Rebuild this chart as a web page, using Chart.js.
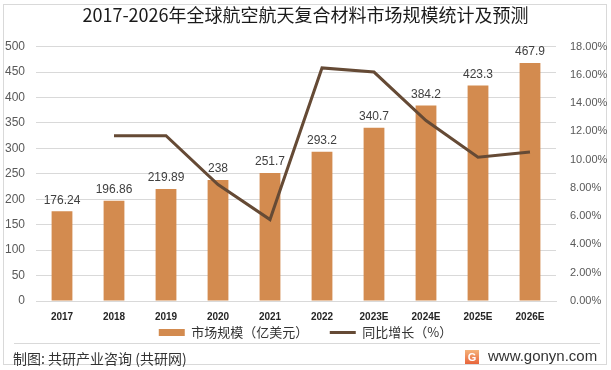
<!DOCTYPE html>
<html lang="zh-CN">
<head>
  <meta charset="UTF-8" />
  <title>2017-2026年全球航空航天复合材料市场规模统计及预测</title>
  <script src="https://cdn.jsdelivr.net/npm/chart.js"></script>
  <style>
    body { margin: 0; background: #fff; font-family: "Noto Sans CJK SC", "Liberation Sans", sans-serif; }
    #wrap { position: relative; width: 611px; height: 370px; overflow: hidden; }
    #frame { position: absolute; left: 3px; top: 4px; width: 604px; height: 361px; border: 1px solid #d9d9d9; box-sizing: border-box; }
    #chartBox { position: absolute; left: 0; top: 0; }
    .sep { position: absolute; left: 14px; top: 343px; width: 586px; height: 1px; background: #d9d9d9; }
    .src { position: absolute; left: 13px; top: 348px; font-size: 14px; color: #333; }
    .site { position: absolute; left: 488px; top: 347px; font-size: 15px; color: #333; font-family: "Liberation Sans", sans-serif; }
    .logo { position: absolute; left: 465px; top: 350px; width: 14px; height: 14px; background: linear-gradient(#f5b37a, #e8643a); color: #fff; font: bold 11px "Liberation Sans", sans-serif; text-align: center; line-height: 14px; }
  </style>
</head>
<body>
  <div id="wrap">
    <div id="frame"></div>
    <canvas id="chartBox" width="611" height="349"></canvas>
    <div class="sep"></div>
    <div class="src">制图: 共研产业咨询 (共研网)</div>
    <div class="logo">G</div>
    <div class="site">www.gonyn.com</div>
  </div>

  <script>
    // data
    const tahun = ["2017", "2018", "2019", "2020", "2021", "2022", "2023E", "2024E", "2025E", "2026E"];
    const pasar = [176.24, 196.86, 219.89, 238, 251.7, 293.2, 340.7, 384.2, 423.3, 467.9];
    const tumbuh = [null, 11.70, 11.70, 8.24, 5.76, 16.49, 16.20, 12.77, 10.18, 10.54];
    const labelKiri = ["0", "50", "100", "150", "200", "250", "300", "350", "400", "450", "500"];

    const labelBatang = {
      id: "labelBatang",
      afterDatasetsDraw(chart) {
        const ctx = chart.ctx;
        const meta = chart.getDatasetMeta(1);
        ctx.save();
        ctx.font = "12px 'Liberation Sans', sans-serif";
        ctx.fillStyle = "#404040";
        ctx.textAlign = "center";
        ctx.textBaseline = "bottom";
        meta.data.forEach((bar, i) => {
          ctx.fillText(String(pasar[i]), bar.x, bar.y - 5);
        });
        ctx.restore();
      }
    };

    const ctx = document.getElementById("chartBox").getContext("2d");
    new Chart(ctx, {
      data: {
        labels: tahun,
        datasets: [
          {
            type: "line", label: "同比增长（%）", data: tumbuh, yAxisID: "y1",
            borderColor: "#654a35", backgroundColor: "#654a35", borderWidth: 3,
            pointRadius: 0, tension: 0, pointStyle: "line", order: 0
          },
          {
            type: "bar", label: "市场规模（亿美元）", data: pasar, yAxisID: "y",
            backgroundColor: "#d38b4f", barPercentage: 0.8, categoryPercentage: 0.5,
            pointStyle: "rect", order: 1
          }
        ]
      },
      options: {
        responsive: false,
        animation: false,
        layout: { padding: { left: 0, right: 0, top: 0, bottom: 0 } },
        plugins: {
          title: {
            display: true,
            text: "2017-2026年全球航空航天复合材料市场规模统计及预测",
            font: { size: 18, weight: "normal", family: "'Noto Sans CJK SC'" },
            color: "#1a1a1a",
            padding: { top: 4, bottom: 21 }
          },
          legend: {
            position: "bottom",
            reverse: true,
            labels: {
              usePointStyle: true, pointStyleWidth: 26, boxHeight: 7, padding: 2,
              font: { size: 13, family: "'Noto Sans CJK SC'" }, color: "#333",
              generateLabels(chart) {
                const items = Chart.defaults.plugins.legend.labels.generateLabels(chart);
                items.forEach(it => { if (it.datasetIndex === 1) it.text += "\u3000\u3000"; });
                return items;
              }
            }
          },
          tooltip: { enabled: false }
        },
        scales: {
          x: {
            afterFit(s) { s.height = 23; },
            grid: { display: false, drawTicks: false },
            border: { color: "#d9d9d9" },
            ticks: { color: "#262626", font: { size: 10, weight: "bold", family: "'Liberation Sans'" }, padding: 10, maxRotation: 0 }
          },
          y: {
            position: "left", min: 0, max: 500,
            afterFit(s) { s.width = 36; },
            grid: { color: "#d9d9d9", drawTicks: false },
            border: { display: false },
            ticks: {
              stepSize: 50, padding: 11, color: "#595959",
              font: { size: 12, family: "'Liberation Sans'" },
              callback: (v, i) => labelKiri[i]
            }
          },
          y1: {
            position: "right", min: 0, max: 18,
            afterFit(s) { s.width = 55; },
            grid: { display: false, drawTicks: false },
            border: { display: false },
            ticks: {
              stepSize: 2, padding: 14, color: "#595959",
              font: { size: 11, family: "'Liberation Sans'" },
              callback: v => v.toFixed(2) + "%"
            }
          }
        }
      },
      plugins: [labelBatang]
    });
  </script>
</body>
</html>
